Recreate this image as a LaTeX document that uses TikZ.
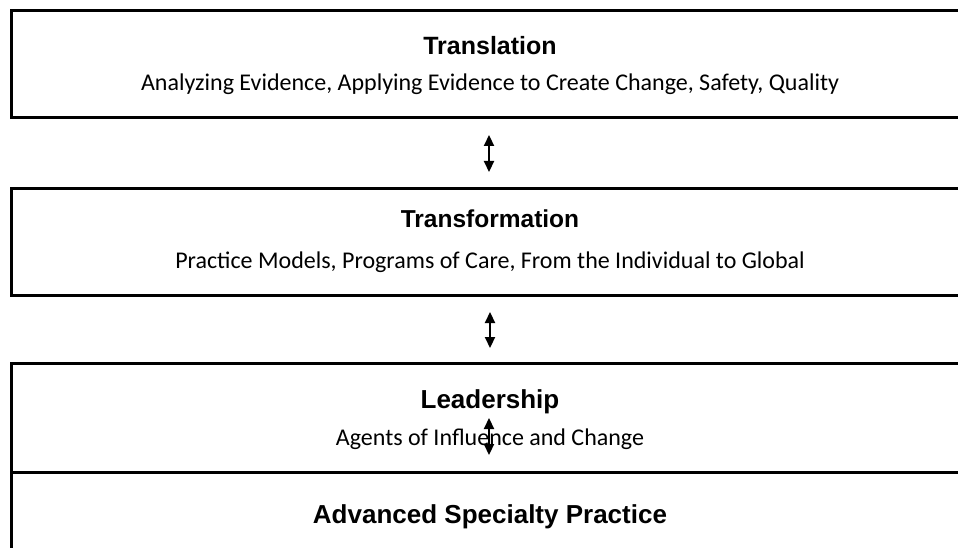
\documentclass[tikz,border=0pt]{standalone}
\usepackage{fontspec}
\setmainfont{Carlito}
\newfontfamily\arialfont{Liberation Sans}
\usetikzlibrary{arrows.meta}
\begin{document}
\begin{tikzpicture}[x=1pt,y=-1pt,
  box/.style={draw, line width=2.6pt, minimum width=960pt, inner sep=0pt, anchor=north west},
  ttl/.style={font=\arialfont\bfseries\fontsize{#1}{28}\selectfont, anchor=base, inner sep=0pt},
  ttl/.default=25,
  sub/.style={font=\fontsize{24}{28}\selectfont, anchor=base, inner sep=0pt},
  dbl/.style={{Triangle[length=11pt,width=10pt]}-{Triangle[length=11pt,width=10pt]}, line width=2.2pt}]
\useasboundingbox (0,0) rectangle (958,548);
\clip (0,0) rectangle (958,548);
\node[box, minimum height=107pt] (b1) at (10,9) {};
\node[box, minimum height=107pt] (b2) at (10,187) {};
\node[box, minimum height=109pt] (b3) at (10,362) {};
\node[box, minimum height=120pt] (b4) at (10,471) {};
\node[ttl=25] (t1) at (490,55) {Translation};
\node[sub] (s1) at (490,91) {Analyzing Evidence, Applying Evidence to Create Change, Safety, Quality};
\node[ttl=24.5] (t2) at (490,227) {Transformation};
\node[sub] (s2) at (490,268) {Practice Models, Programs of Care, From the Individual to Global};
\node[ttl=26] (t3) at (490,408) {Leadership};
\node[sub] (s3) at (490,445) {Agents of Influence and Change};
\node[ttl=26] (t4) at (490,523) {Advanced Specialty Practice};
\coordinate (a1s) at (489,135);
\coordinate (a1e) at (489,172);
\coordinate (a2s) at (490,312);
\coordinate (a2e) at (490,348);
\coordinate (a3s) at (489,418);
\coordinate (a3e) at (489,455);
\draw[dbl] (a1s) -- (a1e);
\draw[dbl] (a2s) -- (a2e);
\draw[dbl] (a3s) -- (a3e);
\end{tikzpicture}
\end{document}
